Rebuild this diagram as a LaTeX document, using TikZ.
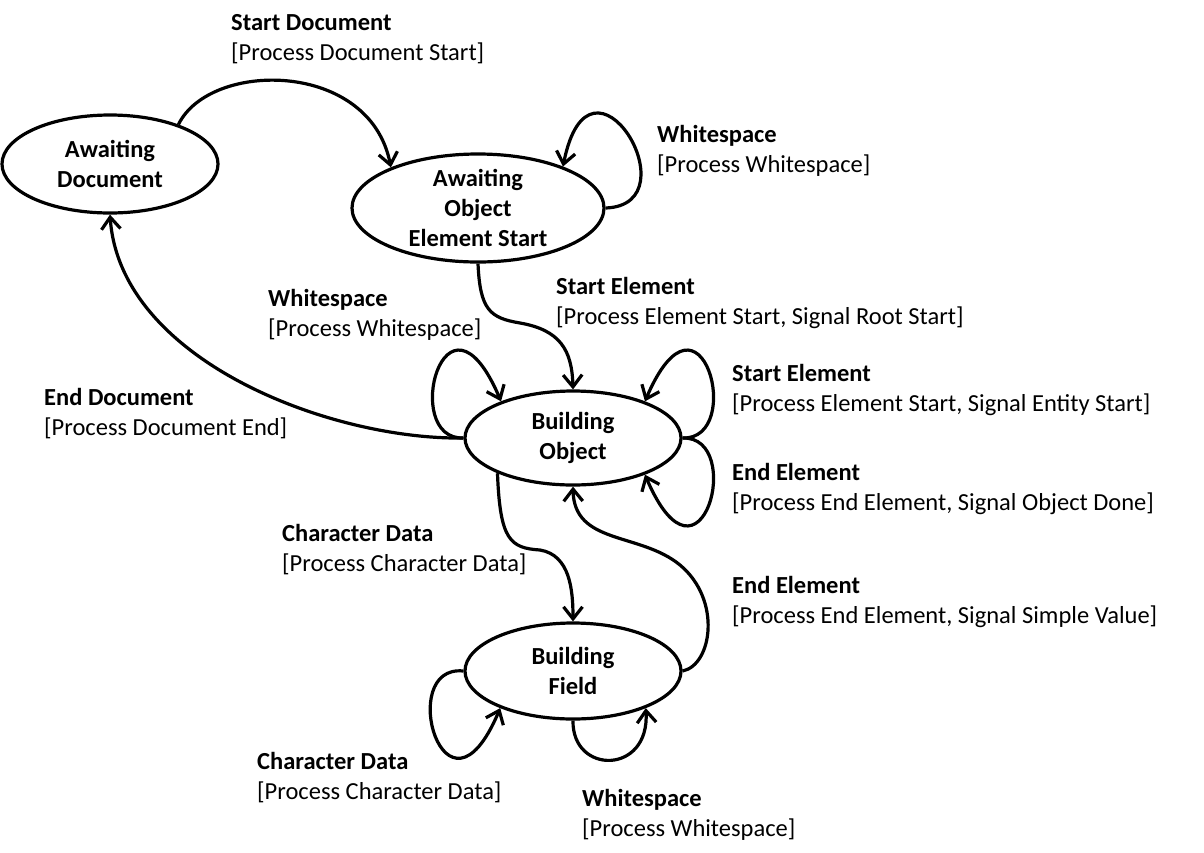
\documentclass[tikz,border=0pt]{standalone}
\usepackage{fontspec}
\setmainfont{Carlito}
\usetikzlibrary{arrows.meta,shapes.geometric}
\begin{document}
\begin{tikzpicture}[x=1pt,y=-1pt,
  state/.style={draw, ellipse, line width=3.2pt, inner sep=-10pt, align=center,
    font=\fontsize{24.5}{30}\selectfont\bfseries},
  edge/.style={line width=3.2pt, -{Straight Barb[length=12pt,width=19pt]}},
  ttl/.style={anchor=base west, inner sep=0pt, font=\fontsize{24.5}{30}\selectfont\bfseries},
  act/.style={anchor=base west, inner sep=0pt, font=\fontsize{24.5}{30}\selectfont}]
\useasboundingbox (0,0) rectangle (1204,852);
% states
\node[state, minimum width=216pt, minimum height=98pt] (ad) at (110,164) {Awaiting\\Document};
\node[state, minimum width=252pt, minimum height=108pt] (aoes) at (478,208) {Awaiting\\Object\\Element Start};
\node[state, minimum width=216pt, minimum height=94pt] (bo) at (573,438) {Building\\Object};
\node[state, minimum width=216pt, minimum height=96pt] (bf) at (573,671) {Building\\Field};
% transitions
\draw[edge] (ad.30) .. controls (210,60) and (370,60) .. (aoes.155);
\draw[edge] (aoes.east) .. controls (695,205) and (590,30) .. (aoes.26);
\coordinate (se1) at (520,323);
\draw[edge] (aoes.south) .. controls (480,310) and (490,318) .. (se1) .. controls (560,330) and (572,350) .. (bo.north);
\draw[edge] (bo.west) .. controls (400,440) and (445,270) .. (bo.153);
\draw[edge] (bo.east) .. controls (746,440) and (701,270) .. (bo.27);
\draw[edge] (bo.east) .. controls (746,436) and (701,606) .. (bo.-27);
\draw[edge] (bo.west) .. controls (330,440) and (120,360) .. (ad.south);
\coordinate (cd1) at (540,550);
\draw[edge] (bo.205) .. controls (500,540) and (510,548) .. (cd1) .. controls (570,555) and (573,590) .. (bf.north);
\coordinate (ee1) at (680,565);
\draw[edge] (bf.east) .. controls (712,665) and (722,600) .. (ee1) .. controls (640,532) and (574,545) .. (bo.south);
\draw[edge] (bf.west) .. controls (395,664) and (445,839) .. (bf.-153);
\draw[edge] (bf.south) .. controls (572,775) and (650,775) .. (bf.-27);
% labels
\node[ttl] (t1) at (231,30) {Start Document};
\node[act] (a1) at (231,60) {[Process Document Start]};
\node[ttl] (t2) at (657,142) {Whitespace};
\node[act] (a2) at (657,172) {[Process Whitespace]};
\node[ttl] (t3) at (268,306) {Whitespace};
\node[act] (a3) at (268,336) {[Process Whitespace]};
\node[ttl] (t4) at (556,294) {Start Element};
\node[act] (a4) at (556,324) {[Process Element Start, Signal Root Start]};
\node[ttl] (t5) at (44,405) {End Document};
\node[act] (a5) at (44,435) {[Process Document End]};
\node[ttl] (t6) at (732,381) {Start Element};
\node[act] (a6) at (732,411) {[Process Element Start, Signal Entity Start]};
\node[ttl] (t7) at (732,480) {End Element};
\node[act] (a7) at (732,510) {[Process End Element, Signal Object Done]};
\node[ttl] (t8) at (282,541) {Character Data};
\node[act] (a8) at (282,571) {[Process Character Data]};
\node[ttl] (t9) at (732,593) {End Element};
\node[act] (a9) at (732,623) {[Process End Element, Signal Simple Value]};
\node[ttl] (t10) at (257,769) {Character Data};
\node[act] (a10) at (257,799) {[Process Character Data]};
\node[ttl] (t11) at (582,806) {Whitespace};
\node[act] (a11) at (582,836) {[Process Whitespace]};
\end{tikzpicture}
\end{document}
